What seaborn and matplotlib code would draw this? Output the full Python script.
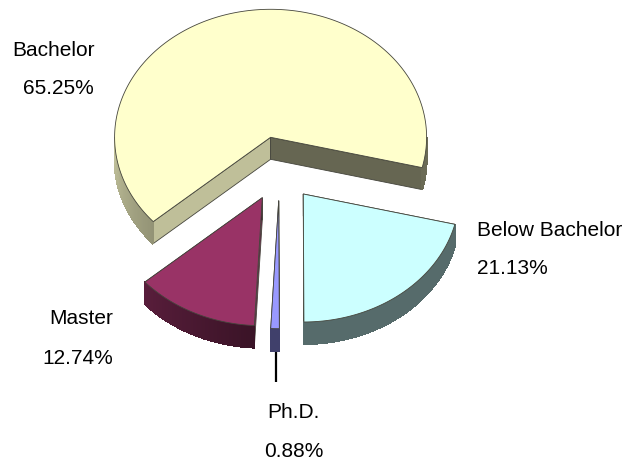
import numpy as np
from matplotlib import pyplot as plt
import seaborn as sns

# share of each education level, in drawing order
categories = ['Below Bachelor', 'Ph.D.', 'Master', 'Bachelor']
shares = [21.13, 0.88, 12.74, 65.25]
top_colors = ['#CCFFFF', '#9999FF', '#993366', '#FFFFCC']

# pie geometry, in pixels of the picture
RX, RY = 156, 128
DEPTH = 22
START = 103.7
apexes = {'Bachelor': (270.6, 137.3), 'Below Bachelor': (303.3, 194),
          'Master': (262.3, 197.7), 'Ph.D.': (278.7, 200.7)}
# x of name, y of name, x of percentage, y of percentage
label_pos = {'Bachelor': (54, 50.5, 58.5, 88.5), 'Below Bachelor': (550, 230.5, 512.5, 268.5),
             'Master': (81.5, 318.5, 78, 358.5), 'Ph.D.': (293.5, 412.5, 293.5, 451.5)}


def shade(color, factor):
    return tuple(np.array(color) * factor)


# how dark the rim is, it gets lighter towards the left of the pie
def rim_factor(theta):
    theta = theta % 360
    if theta < 183:
        return 0.42
    return 0.38 + (theta - 183) * 0.37 / 87


def ellipse_point(apex, theta, drop=0):
    rad = np.radians(theta)
    return apex[0] + RX * np.sin(rad), apex[1] - RY * np.cos(rad) + drop


def plot_slice(ax, apex, t0, t1, color):
    edge = '#45453c'
    # the two cut faces, the top face hides them when they look away
    for theta, factor in [(t0, 0.75), (t1, 0.4)]:
        x, y = ellipse_point(apex, theta)
        ax.fill([apex[0], x, x, apex[0]], [apex[1], y, y + DEPTH, apex[1] + DEPTH],
                fc=shade(color, factor), ec=edge, lw=0.6, zorder=2)

    # rim, only the part facing the viewer
    thetas = np.linspace(t0, t1, max(int(t1 - t0), 2) * 2)
    for a, b in zip(thetas[:-1], thetas[1:]):
        mid = (a + b) / 2
        if not 90 <= mid % 360 <= 270:
            continue
        xa, ya = ellipse_point(apex, a)
        xb, yb = ellipse_point(apex, b)
        clr = shade(color, rim_factor(mid))
        ax.fill([xa, xb, xb, xa], [ya, yb, yb + DEPTH, ya + DEPTH], fc=clr, ec=clr, lw=0.8,
                antialiased=False, zorder=2)

    xs, ys = ellipse_point(apex, thetas)
    ax.fill(np.r_[apex[0], xs], np.r_[apex[1], ys], fc=color, ec=edge, lw=0.6, zorder=3)


if __name__ == "__main__":
    sns.set_theme(style='white')
    plt.rcParams['font.family'] = ['Liberation Sans', 'DejaVu Sans']

    palette = sns.color_palette(top_colors)

    fig = plt.figure(figsize=(6.26, 4.65), dpi=100)
    ax = fig.add_axes([0, 0, 1, 1])
    ax.set_xlim(0, 626)
    ax.set_ylim(465, 0)
    ax.axis('off')

    # leader line of the thin slice
    ax.plot([276, 276], [350, 382], color='black', lw=1.6, solid_capstyle='butt', zorder=1)

    angle = START
    spans = {}
    for name, share, clr in zip(categories, shares, palette):
        sweep = share / sum(shares) * 360
        spans[name] = (angle, angle + sweep, clr)
        angle += sweep

    for name in ['Bachelor', 'Below Bachelor', 'Master', 'Ph.D.']:
        t0, t1, clr = spans[name]
        plot_slice(ax, apexes[name], t0, t1, clr)

    for name, share in zip(categories, shares):
        x1, y1, x2, y2 = label_pos[name]
        ax.text(x1, y1, name, ha='center', va='center', fontsize=15, color='black')
        ax.text(x2, y2, f'{share:.2f}%', ha='center', va='center', fontsize=15, color='black')

    fig.savefig('out.png', dpi=100)
